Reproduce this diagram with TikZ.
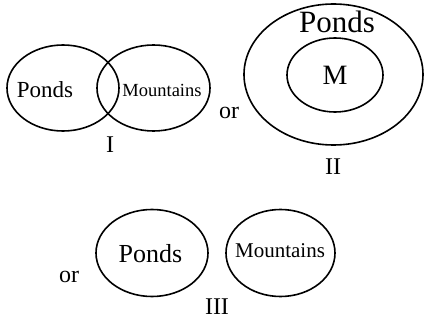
\documentclass[tikz,border=0pt]{standalone}
\usepackage{fontspec}
\setmainfont{Liberation Serif}
\usetikzlibrary{positioning, shapes.geometric}
\tikzset{
  % Venn sets
  setoval/.style={
    draw, ellipse, line width=1.6pt,
    inner sep=0pt, minimum width=#1
  },
  % Texts
  setname/.style={
    anchor=base, inner sep=0pt, font=\fontsize{#1}{#1}\selectfont
  },
  casename/.style={
    anchor=base, inner sep=0pt, font=\fontsize{24}{24}\selectfont
  },
}

\begin{document}
\begin{tikzpicture}[x=1pt, y=-1pt]
  \useasboundingbox (0,0) rectangle (424,321);

  %% ── Case I ──
  \node[setoval=112pt, minimum height=86pt] (pondsI) at (63,88) {};
  \node[setoval=113pt, minimum height=86pt] (mountI) at (153.5,88) {};
  \node[setname=23]   (pondsIlbl) at (45,98)  {Ponds};
  \node[setname=18.5] (mountIlbl) at (162,97) {Mountains};
  \node[casename] (caseI) at (110,153) {I};
  \node[casename] (orI)   at (229,119) {or};

  %% ── Case II ──
  \node[setoval=179pt, minimum height=141pt] (pondsII) at (333.5,74.5) {};
  \node[setoval=96pt, minimum height=74pt]   (mountII) at (335,75) {};
  \node[setname=31] (pondsIIlbl) at (337,33) {Ponds};
  \node[setname=28] (mountIIlbl) at (335,85) {M};
  \node[casename] (caseII) at (333,175) {II};

  %% ── Case III ──
  \node[setoval=112pt, minimum height=87pt] (pondsIII) at (152,253) {};
  \node[setoval=109pt, minimum height=87pt] (mountIII) at (280.5,253) {};
  \node[setname=26] (pondsIIIlbl) at (150.5,262) {Ponds};
  \node[setname=21] (mountIIIlbl) at (280,258)   {Mountains};
  \node[casename] (orIII)   at (69,283)  {or};
  \node[casename] (caseIII) at (217,314) {III};

\end{tikzpicture}
\end{document}
